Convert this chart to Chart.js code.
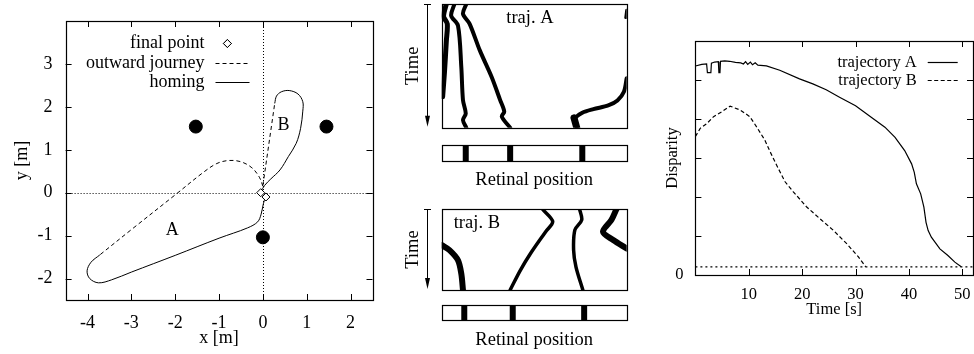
<!DOCTYPE html>
<html>
<head>
<meta charset="utf-8">
<script src="https://cdn.jsdelivr.net/npm/chart.js@4.4.1/dist/chart.umd.min.js"></script>
<style>
  html, body { margin: 0; padding: 0; background: #fff; }
  #wrap { position: relative; width: 974px; height: 354px; overflow: hidden; }
  canvas { position: absolute; }
</style>
</head>
<body>
<div id="wrap">
  <canvas id="paths" width="380" height="354" style="left:0;top:0"></canvas>
  <canvas id="rasterA" width="260" height="135" style="left:380px;top:0"></canvas>
  <canvas id="stripA" width="260" height="60" style="left:380px;top:135px"></canvas>
  <canvas id="rasterB" width="260" height="95" style="left:380px;top:200px"></canvas>
  <canvas id="stripB" width="260" height="59" style="left:380px;top:295px"></canvas>
  <canvas id="disp" width="334" height="354" style="left:640px;top:0"></canvas>
</div>
<script>
// ---- left panel: paths in the arena [m]
const outwardA = [[0, 0.15], [-0.08, 0.36], [-0.25, 0.58], [-0.5, 0.72], [-0.78, 0.75], [-1.05, 0.68], [-1.35, 0.48], [-2.0, -0.05], [-3.0, -0.86], [-3.72, -1.45]];
const homingA = [[-3.72, -1.45], [-3.92, -1.62], [-4.01, -1.82], [-3.95, -2.0], [-3.75, -2.1], [-3.45, -2.03], [-3.0, -1.85], [-2.0, -1.46], [-1.0, -1.06], [-0.35, -0.82], [-0.12, -0.68], [-0.04, -0.5], [0.01, -0.26], [0.06, -0.1]];
const outwardB = [[0, 0.17], [0.27, 2.08]];
const homingB = [[0.27, 2.08], [0.31, 2.25], [0.42, 2.35], [0.6, 2.38], [0.8, 2.3], [0.91, 2.12], [0.91, 1.9], [0.86, 1.5], [0.76, 1.15], [0.58, 0.84], [0.39, 0.53], [0.18, 0.32], [0.04, 0.17], [-0.05, 0.02]];
const finalPoints = [[-0.05, 0.0], [0.07, -0.1]];
const landmarks = [[-1.53, 1.54], [1.45, 1.54], [0, -1.04]];
const pathNotes = [{ text: 'A', x: -2.07, y: -0.87 }, { text: 'B', x: 0.47, y: 1.58 }];
const xTicksM = [-4, -3, -2, -1, 0, 1, 2];
const yTicksM = [-2, -1, 0, 1, 2, 3];

// ---- middle panel: dark edges on the retina over time (retinal position 0..1, time 0..1)
const edgesA = [
  [[0.025, 0], [0.01, 0.1], [0.03, 0.16], [0.025, 0.3], [0.015, 0.55], [0.005, 0.75]],
  [[0.069, 0], [0.051, 0.094], [0.088, 0.174], [0.106, 0.51], [0.115, 0.777], [0.13, 0.885], [0.115, 0.938], [0.133, 1.0]],
  [[0.133, 0], [0.115, 0.08], [0.151, 0.16], [0.206, 0.375], [0.27, 0.59], [0.316, 0.777], [0.338, 0.87], [0.325, 0.91], [0.37, 1.0]],
  [[0.73, 1.0], [0.72, 0.93], [0.76, 0.88], [0.82, 0.85], [0.9, 0.82], [0.95, 0.78], [0.985, 0.71], [1.0, 0.6]],
  [[0.715, 0.92], [0.73, 1.0]],
  [[1.0, 0.05], [0.995, 0.11]]
];
const edgesB = [
  [[0, 0.446], [0.042, 0.508], [0.088, 0.633], [0.106, 0.8], [0.115, 1.0]],
  [[0.544, 0], [0.6, 0.154], [0.562, 0.28], [0.48, 0.55], [0.425, 0.758], [0.37, 1.0]],
  [[0.745, 0], [0.757, 0.133], [0.72, 0.258], [0.713, 0.508], [0.726, 0.717], [0.763, 1.0]],
  [[0.945, 0], [0.918, 0.133], [0.872, 0.28], [0.927, 0.383], [1.0, 0.488]]
];
const edgeWidthA = [5, 4, 4, 4, 7, 3];
const edgeWidthB = [6, 3.5, 3.5, 6];
const barsA = [0.13, 0.37, 0.76];
const barsB = [0.122, 0.384, 0.77];

// ---- right panel: disparity over time
const timeA = [0, 1.2, 2.1, 2.25, 2.9, 3.0, 3.6, 4.3, 4.4, 4.6, 4.7, 5.5, 6.4, 7.5, 8.5, 9.0, 9.4, 9.8, 10.3, 10.7, 11.2, 11.7, 13.3, 15.8, 19.5, 22, 24.5, 27, 30, 33, 35.5, 37.4, 39.2, 40.5, 41, 41.4, 42.2, 42.8, 43.2, 43.6, 44.2, 45.8, 47.3, 48.6, 49.8];
const dispA = [5.36, 5.4, 5.41, 5.19, 5.19, 5.43, 5.46, 5.47, 5.19, 5.19, 5.48, 5.49, 5.48, 5.45, 5.44, 5.41, 5.47, 5.4, 5.46, 5.39, 5.44, 5.38, 5.36, 5.25, 5.03, 4.9, 4.75, 4.56, 4.34, 4.04, 3.79, 3.53, 3.19, 2.85, 2.63, 2.34, 2.08, 1.74, 1.35, 1.14, 0.97, 0.67, 0.5, 0.33, 0.21];
const timeB = [0, 0.9, 2.2, 3.4, 5.0, 6.5, 8.4, 10.2, 11.5, 13, 14, 15.2, 16.8, 18.3, 20.8, 23.6, 25.8, 28.3, 30.5, 31.9];
const dispB = [3.55, 3.76, 3.89, 4.06, 4.19, 4.33, 4.23, 4.06, 3.79, 3.46, 3.16, 2.82, 2.39, 2.14, 1.75, 1.41, 1.15, 0.81, 0.47, 0.21];
const threshold = 0.21;
const xTicksT = [0, 10, 20, 30, 40, 50];
const yTicksD = [0, 1, 2, 3, 4, 5, 6];

Chart.defaults.font.family = "'Liberation Serif', 'Times New Roman', serif";
Chart.defaults.color = '#000';
Chart.defaults.animation = false;
Chart.defaults.responsive = false;
Chart.defaults.devicePixelRatio = 1;
Chart.defaults.plugins.legend.display = false;
Chart.defaults.plugins.tooltip.enabled = false;
Chart.defaults.elements.point.radius = 0;

const pts = a => a.map(([x, y]) => ({ x, y }));

// box round the plot, inward ticks on all four sides, dotted zero axes
const framePlugin = {
  id: 'frame',
  beforeDatasetsDraw(chart, args, o) {
    if (!o.zero) return;
    const { ctx, chartArea: a, scales: { x, y } } = chart;
    ctx.save();
    ctx.strokeStyle = '#000';
    ctx.lineWidth = 1;
    ctx.setLineDash([1, 2]);
    const px = Math.round(x.getPixelForValue(0)) + 0.5;
    const py = Math.round(y.getPixelForValue(0)) + 0.5;
    ctx.beginPath();
    ctx.moveTo(px, a.top); ctx.lineTo(px, a.bottom);
    ctx.moveTo(a.left, py); ctx.lineTo(a.right, py);
    ctx.stroke();
    ctx.restore();
  },
  afterDatasetsDraw(chart, args, o) {
    const { ctx, chartArea: a, scales: { x, y } } = chart;
    ctx.save();
    ctx.strokeStyle = '#000';
    ctx.lineWidth = 1.2;
    ctx.strokeRect(Math.round(a.left) + 0.5, Math.round(a.top) + 0.5, Math.round(a.right - a.left), Math.round(a.bottom - a.top));
    if (o.ticks) {
      const L = 6;
      ctx.lineWidth = 1;
      ctx.beginPath();
      x.ticks.forEach(t => {
        const p = Math.round(x.getPixelForValue(t.value)) + 0.5;
        ctx.moveTo(p, a.bottom); ctx.lineTo(p, a.bottom - L);
        ctx.moveTo(p, a.top); ctx.lineTo(p, a.top + L);
      });
      y.ticks.forEach(t => {
        const p = Math.round(y.getPixelForValue(t.value)) + 0.5;
        ctx.moveTo(a.left, p); ctx.lineTo(a.left + L, p);
        ctx.moveTo(a.right, p); ctx.lineTo(a.right - L, p);
      });
      ctx.stroke();
    }
    ctx.restore();
  }
};

// gnuplot style key: right aligned text and a sample to its right
const keyPlugin = {
  id: 'key',
  afterDatasetsDraw(chart, args, o) {
    if (!o.items) return;
    const { ctx, chartArea: a } = chart;
    ctx.save();
    ctx.font = o.font;
    ctx.fillStyle = '#000';
    ctx.textAlign = 'right';
    ctx.textBaseline = 'middle';
    const xr = a.right - o.right;
    o.items.forEach((it, i) => {
      const yy = Math.round(a.top + o.top + i * o.gap) + 0.5;
      ctx.fillText(it.text, xr, yy);
      const ds = chart.data.datasets[it.ds];
      if (it.marker) {
        ctx.lineWidth = ds.borderWidth;
        ctx.strokeStyle = '#000';
        ctx.fillStyle = '#fff';
        Chart.helpers.drawPoint(ctx, { pointStyle: ds.pointStyle, radius: ds.pointRadius, borderWidth: ds.borderWidth }, xr + o.pad + o.len * 0.35, yy);
        ctx.fill(); ctx.stroke();
        ctx.fillStyle = '#000';
      } else {
        ctx.strokeStyle = '#000';
        ctx.lineWidth = ds.borderWidth;
        ctx.setLineDash(ds.borderDash || []);
        ctx.beginPath();
        ctx.moveTo(xr + o.pad, yy); ctx.lineTo(xr + o.pad + o.len, yy);
        ctx.stroke();
        ctx.setLineDash([]);
      }
    });
    ctx.restore();
  }
};

// text placed at data coordinates
const notesPlugin = {
  id: 'notes',
  afterDatasetsDraw(chart, args, o) {
    if (!o.items) return;
    const { ctx, scales: { x, y } } = chart;
    ctx.save();
    ctx.font = o.font;
    ctx.fillStyle = '#000';
    ctx.textAlign = 'center';
    ctx.textBaseline = 'middle';
    o.items.forEach(n => ctx.fillText(n.text, x.getPixelForValue(n.x), y.getPixelForValue(n.y)));
    ctx.restore();
  }
};

// downward time arrow left of the raster
const arrowPlugin = {
  id: 'timeArrow',
  afterDraw(chart, args, o) {
    if (!o.gap) return;
    const { ctx, chartArea: a } = chart;
    const x = Math.round(a.left - o.gap) + 0.5;
    ctx.save();
    ctx.strokeStyle = '#000';
    ctx.fillStyle = '#000';
    ctx.lineWidth = 1;
    ctx.beginPath();
    ctx.moveTo(x - 3.5, a.top + 0.5); ctx.lineTo(x + 3.5, a.top + 0.5);
    ctx.moveTo(x, a.top); ctx.lineTo(x, a.bottom - 10);
    ctx.stroke();
    ctx.beginPath();
    ctx.moveTo(x - 2.5, a.bottom - 12); ctx.lineTo(x + 2.5, a.bottom - 12); ctx.lineTo(x, a.bottom - 1);
    ctx.closePath();
    ctx.fill();
    ctx.restore();
  }
};

Chart.register(framePlugin, keyPlugin, notesPlugin, arrowPlugin);

const SERIF = "'Liberation Serif', 'Times New Roman', serif";
const hidden = { grid: { display: false, drawTicks: false }, border: { display: false } };
// fixed axis sizes, no extra room for overhanging labels
const fixH = h => s => { s.height = h; s.paddingLeft = 0; s.paddingRight = 0; s.paddingTop = 0; s.paddingBottom = 0; };
const fixW = w => s => { s.width = w; s.paddingLeft = 0; s.paddingRight = 0; s.paddingTop = 0; s.paddingBottom = 0; };

// ---------------- left panel
new Chart(document.getElementById('paths'), {
  type: 'scatter',
  data: {
    datasets: [
      { label: 'final point', data: pts(finalPoints), pointStyle: 'rectRot', pointRadius: 4, backgroundColor: '#fff', borderColor: '#000', borderWidth: 1 },
      { label: 'outward journey', data: pts(outwardA), showLine: true, borderColor: '#000', borderWidth: 1, borderDash: [4, 3], tension: 0.35 },
      { label: 'outward B', data: pts(outwardB), showLine: true, borderColor: '#000', borderWidth: 1, borderDash: [4, 3] },
      { label: 'homing', data: pts(homingA), showLine: true, borderColor: '#000', borderWidth: 1, tension: 0.35 },
      { label: 'homing B', data: pts(homingB), showLine: true, borderColor: '#000', borderWidth: 1, tension: 0.35 },
      { label: 'landmarks', data: pts(landmarks), pointStyle: 'circle', pointRadius: 6.5, backgroundColor: '#000', borderColor: '#000' }
    ]
  },
  options: {
    layout: { padding: { left: 0, top: 21, right: 5, bottom: 0 } },
    scales: {
      x: {
        type: 'linear', min: -4.5, max: 2.5, ...hidden,
        afterBuildTicks: s => { s.ticks = xTicksM.map(v => ({ value: v })); },
        afterFit: fixH(54),
        ticks: { font: { size: 18 }, padding: 12, autoSkip: false, maxRotation: 0, callback: v => String(v) },
        title: { display: true, text: 'x [m]', font: { size: 18 }, padding: { top: 0, bottom: 5 } }
      },
      y: {
        type: 'linear', min: -2.5, max: 4, ...hidden,
        afterBuildTicks: s => { s.ticks = yTicksM.map(v => ({ value: v })); },
        afterFit: fixW(65.6),
        ticks: { font: { size: 18 }, padding: 13, autoSkip: false, callback: v => String(v) },
        title: { display: true, text: 'y [m]', font: { size: 18 }, padding: { top: 11, bottom: 0 } }
      }
    },
    plugins: {
      frame: { ticks: true, zero: true },
      key: {
        font: '18px ' + SERIF, right: 168, top: 22, gap: 19.5, pad: 11, len: 34,
        items: [{ text: 'final point', ds: 0, marker: true }, { text: 'outward journey', ds: 1 }, { text: 'homing', ds: 3 }]
      },
      notes: { font: '18px ' + SERIF, items: pathNotes }
    }
  }
});

// ---------------- middle panel
function rasterChart(id, edges, widths, label, padTop, padBottom) {
  const ds = edges.map((e, i) => ({
    data: pts(e), showLine: true, borderColor: '#000', borderWidth: widths[i], tension: 0.3, borderCapStyle: 'round', borderJoinStyle: 'round'
  }));
  return new Chart(document.getElementById(id), {
    type: 'scatter',
    data: { datasets: ds },
    options: {
      layout: { padding: { left: 0, top: padTop, right: 13.3, bottom: padBottom } },
      scales: {
        x: { type: 'linear', min: 0, max: 1, display: false },
        y: {
          type: 'linear', min: 0, max: 1, reverse: true, ...hidden,
          afterFit: fixW(61.7),
          ticks: { display: false },
          title: { display: true, text: 'Time', font: { size: 18.5 }, padding: { top: 22, bottom: 0 } }
        }
      },
      plugins: {
        frame: { ticks: false },
        timeArrow: { gap: 15 },
        notes: { font: '18.5px ' + SERIF, items: [label] }
      }
    }
  });
}

function stripChart(id, bars, padBottom) {
  return new Chart(document.getElementById(id), {
    type: 'scatter',
    data: {
      datasets: bars.map(p => ({
        data: [{ x: p, y: 0 }, { x: p, y: 1 }], showLine: true, borderColor: '#000', borderWidth: 6, borderCapStyle: 'butt'
      }))
    },
    options: {
      layout: { padding: { left: 61.7, top: 10, right: 13.3, bottom: 0 } },
      scales: {
        x: {
          type: 'linear', min: 0, max: 1, ...hidden,
          afterFit: fixH(34),
          ticks: { display: false },
          title: { display: true, text: 'Retinal position', font: { size: 18.5 }, padding: { top: 0, bottom: padBottom } }
        },
        y: { type: 'linear', min: 0, max: 1, display: false }
      },
      plugins: { frame: { ticks: false } }
    }
  });
}

rasterChart('rasterA', edgesA, edgeWidthA, { text: 'traj. A', x: 0.477, y: 0.116 }, 4, 7.3);
stripChart('stripA', barsA, 4);
rasterChart('rasterB', edgesB, edgeWidthB, { text: 'traj. B', x: 0.19, y: 0.177 }, 9, 5);
stripChart('stripB', barsB, 3);

// ---------------- right panel
const series = (t, v) => t.map((x, i) => ({ x, y: v[i] }));
new Chart(document.getElementById('disp'), {
  type: 'scatter',
  data: {
    datasets: [
      { label: 'trajectory A', data: series(timeA, dispA), showLine: true, borderColor: '#000', borderWidth: 1.2 },
      { label: 'trajectory B', data: series(timeB, dispB), showLine: true, borderColor: '#000', borderWidth: 1.2, borderDash: [4, 2.5] },
      { label: 'threshold', data: [{ x: 0, y: threshold }, { x: 52, y: threshold }], showLine: true, borderColor: '#000', borderWidth: 1.2, borderDash: [2, 3] }
    ]
  },
  options: {
    layout: { padding: { left: 0, top: 41, right: 1, bottom: 0 } },
    scales: {
      x: {
        type: 'linear', min: 0, max: 52, ...hidden,
        afterBuildTicks: s => { s.ticks = xTicksT.map(v => ({ value: v })); },
        afterFit: fixH(79),
        ticks: { font: { size: 16.5 }, padding: 10, autoSkip: false, maxRotation: 0, callback: v => (v === 0 ? '' : String(v)) },
        title: { display: true, text: 'Time [s]', font: { size: 16.5 }, padding: { top: 0, bottom: 34 } }
      },
      y: {
        type: 'linear', min: 0, max: 6, ...hidden,
        afterBuildTicks: s => { s.ticks = yTicksD.map(v => ({ value: v })); },
        afterFit: fixW(55.4),
        ticks: { font: { size: 16.5 }, padding: 12, autoSkip: false, callback: v => (v === 0 ? '0' : '') },
        title: { display: true, text: 'Disparity', font: { size: 16.5 }, padding: { top: 23, bottom: 0 } }
      }
    },
    plugins: {
      frame: { ticks: true },
      key: {
        font: '16.5px ' + SERIF, right: 56.3, top: 21, gap: 17.6, pad: 11, len: 30,
        items: [{ text: 'trajectory A', ds: 0 }, { text: 'trajectory B', ds: 1 }]
      }
    }
  }
});
</script>
</body>
</html>
